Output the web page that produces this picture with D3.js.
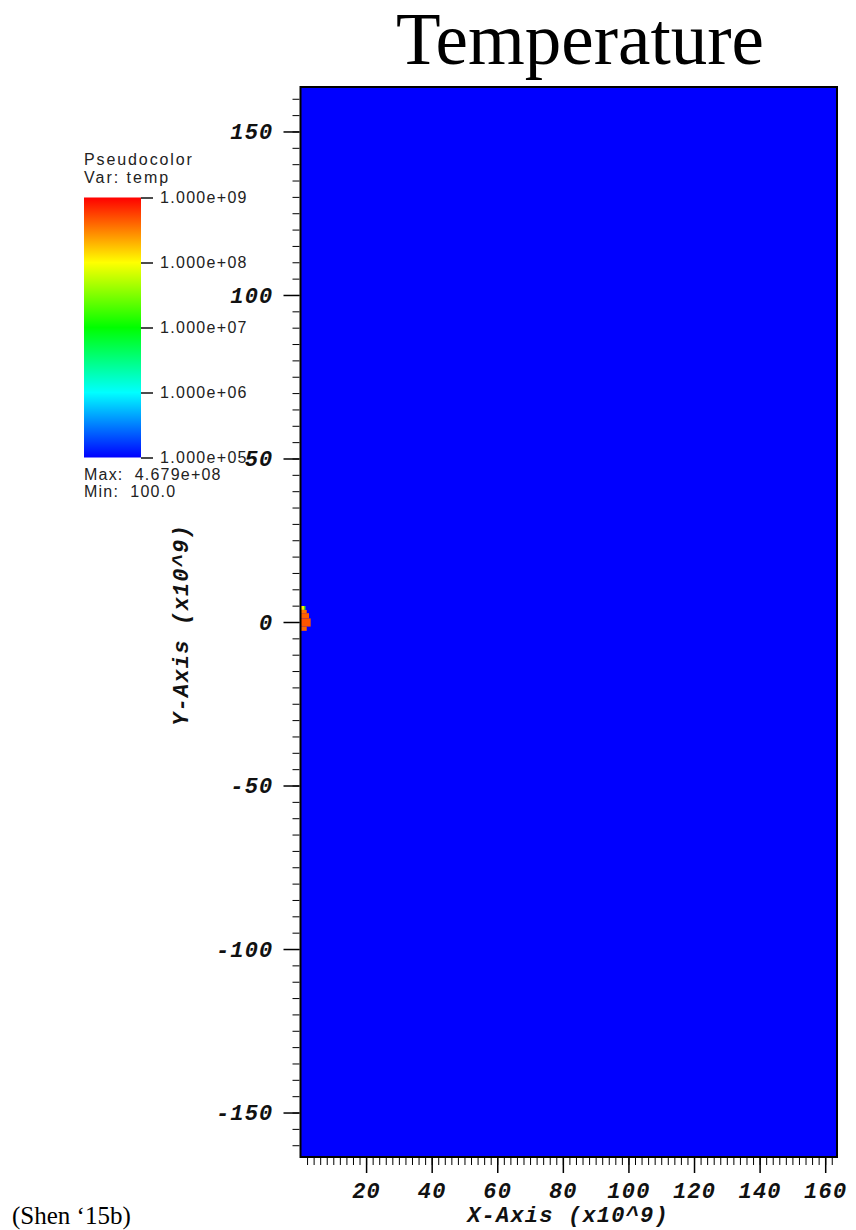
<!DOCTYPE html>
<html>
<head>
<meta charset="utf-8">
<script src="https://cdn.jsdelivr.net/npm/d3@7"></script>
<style>
  body { margin: 0; background: #fff; }
  svg { display: block; }
  .tick text { font-family: "Liberation Mono", monospace; font-weight: bold; font-style: italic; }
  .legend text { font-family: "Liberation Sans", Arial, sans-serif; fill: #222; white-space: pre; }
</style>
</head>
<body>
<div id="chart"></div>
<script>
// axis extents (x10^9)
const xExtent = [0, 163.6];
const yExtent = [-163.6, 163.6];
const xTickValues = [20, 40, 60, 80, 100, 120, 140, 160];
const yTickValues = [-150, -100, -50, 0, 50, 100, 150];

// colour table (VisIt "hot") on log10(temp)
const colorLogStops = [5, 6, 7, 8, 9];
const colorStops = ["#0000ff", "#00ffff", "#00ff00", "#ffff00", "#ff0000"];
const legendTicks = [1e5, 1e6, 1e7, 1e8, 1e9];
const tempMax = 4.679e8;
const tempMin = 100.0;
const backgroundTemp = 100; // whole domain is at the floor

// hot cells near origin: [x0, x1, y0, y1] in x10^9, temp in K
const cellX0 = [0, 1.1, 0, 0, 0, 0];
const cellX1 = [1.1, 1.5, 1.9, 2.6, 3.1, 1.9];
const cellY0 = [3.7, 3.7, 2.7, 1.1, -1.4, -2.7];
const cellY1 = [4.9, 4.9, 3.7, 2.7, 1.1, -1.4];
const cellTemp = [1.2e8, 2e7, 3.5e8, 4.2e8, 4.68e8, 4.0e8];

const W = 856, H = 1230;
const svg = d3.select("#chart").append("svg").attr("width", W).attr("height", H);

const x = d3.scaleLinear().domain(xExtent).range([300.5, 837]);
const y = d3.scaleLinear().domain(yExtent).range([1157, 87]);
const colorLog = d3.scaleLinear().domain(colorLogStops).range(colorStops).clamp(true);
const color = (t) => colorLog(Math.log10(t));

// title
svg.append("text")
  .attr("x", 580).attr("y", 64)
  .attr("text-anchor", "middle")
  .style("font-family", "'Liberation Serif', 'Times New Roman', serif")
  .style("font-size", "73px")
  .text("Temperature");

// field
svg.append("rect")
  .attr("x", x(xExtent[0])).attr("y", y(yExtent[1]))
  .attr("width", x(xExtent[1]) - x(xExtent[0]))
  .attr("height", y(yExtent[0]) - y(yExtent[1]))
  .attr("fill", color(backgroundTemp));

const cells = cellTemp.map((t, i) => ({ x0: cellX0[i], x1: cellX1[i], y0: cellY0[i], y1: cellY1[i], t }));
svg.append("g").selectAll("rect").data(cells).join("rect")
  .attr("x", d => x(d.x0))
  .attr("y", d => y(d.y1))
  .attr("width", d => x(d.x1) - x(d.x0))
  .attr("height", d => y(d.y0) - y(d.y1))
  .attr("fill", d => color(d.t));

// frame
svg.append("rect")
  .attr("x", x(xExtent[0])).attr("y", y(yExtent[1]))
  .attr("width", x(xExtent[1]) - x(xExtent[0]))
  .attr("height", y(yExtent[0]) - y(yExtent[1]))
  .attr("fill", "none").attr("stroke", "#000").attr("stroke-width", 2);

// x axis: minor every 2, major every 20
const xMinor = d3.range(2, 163, 2);
svg.append("g").attr("transform", `translate(0,${y(yExtent[0]) + 1})`)
  .call(d3.axisBottom(x).tickValues(xMinor).tickSize(7).tickFormat(""))
  .call(g => g.select(".domain").remove());
svg.append("g").attr("transform", `translate(0,${y(yExtent[0]) + 1})`)
  .call(d3.axisBottom(x).tickValues(xTickValues).tickSize(15).tickPadding(9).tickFormat(d => String(d)))
  .call(g => g.select(".domain").remove())
  .call(g => g.selectAll(".tick line").attr("stroke-width", 1.5))
  .call(g => g.selectAll(".tick text").style("font-size", "22px").style("letter-spacing", "1.2px").attr("fill", "#111"));

// y axis: minor every 5, major every 50
const yMinor = d3.range(-160, 161, 5);
svg.append("g").attr("transform", `translate(${x(0) - 1},0)`)
  .call(d3.axisLeft(y).tickValues(yMinor).tickSize(7).tickFormat(""))
  .call(g => g.select(".domain").remove());
svg.append("g").attr("transform", `translate(${x(0) - 1},0)`)
  .call(d3.axisLeft(y).tickValues(yTickValues).tickSize(16).tickPadding(10).tickFormat(d => String(d)))
  .call(g => g.select(".domain").remove())
  .call(g => g.selectAll(".tick line").attr("stroke-width", 1.5))
  .call(g => g.selectAll(".tick text").style("font-size", "22px").style("letter-spacing", "1.2px").attr("fill", "#111"));

// axis titles
const axisTitle = (sel) => sel
  .style("font-family", "'Liberation Mono', monospace")
  .style("font-weight", "bold").style("font-style", "italic")
  .style("font-size", "22px").style("letter-spacing", "1.2px").attr("fill", "#111")
  .attr("text-anchor", "middle");
svg.append("text").attr("x", 568).attr("y", 1222).call(axisTitle).text("X-Axis (x10^9)");
svg.append("text").attr("transform", "translate(188,625) rotate(-90)").call(axisTitle).text("Y-Axis (x10^9)");

// legend
const legend = svg.append("g").attr("class", "legend");
const barX = 84, barW = 57;
const ly = d3.scaleLog().domain([1e5, 1e9]).range([457.5, 197.5]);

const grad = svg.append("defs").append("linearGradient")
  .attr("id", "hot").attr("x1", 0).attr("y1", 1).attr("x2", 0).attr("y2", 0);
grad.selectAll("stop").data(colorLogStops).join("stop")
  .attr("offset", (d, i) => i / (colorLogStops.length - 1))
  .attr("stop-color", d => colorLog(d));

legend.append("text").attr("x", barX).attr("y", 165)
  .style("font-size", "16px").style("letter-spacing", "1.9px").text("Pseudocolor");
legend.append("text").attr("x", barX).attr("y", 183)
  .style("font-size", "16px").style("letter-spacing", "2px").text("Var: temp");

legend.append("rect")
  .attr("x", barX).attr("y", ly(1e9))
  .attr("width", barW).attr("height", ly(1e5) - ly(1e9))
  .attr("fill", "url(#hot)");

const expFmt = (v) => {
  const [m, e] = v.toExponential(3).split("e");
  const sign = e[0];
  const digits = e.slice(1).padStart(2, "0");
  return `${m}e${sign}${digits}`;
};

legend.append("g").attr("transform", `translate(${barX + barW},0)`)
  .call(d3.axisRight(ly).tickValues(legendTicks).tickSize(12).tickPadding(7).tickFormat(expFmt))
  .call(g => g.select(".domain").remove())
  .call(g => g.selectAll(".tick line").attr("stroke", "#111").attr("stroke-width", 1.5))
  .call(g => g.selectAll(".tick text")
    .style("font-family", "'Liberation Sans', Arial, sans-serif")
    .style("font-weight", "normal").style("font-style", "normal")
    .style("font-size", "16px").style("letter-spacing", "1.3px").attr("fill", "#222"));

legend.append("text").attr("x", barX).attr("y", 480)
  .style("font-size", "16px").style("letter-spacing", "1.2px")
  .text(`Max:  ${expFmt(tempMax)}`);
legend.append("text").attr("x", barX).attr("y", 497)
  .style("font-size", "16px").style("letter-spacing", "1.2px")
  .text(`Min:  ${tempMin.toFixed(1)}`);

// source note
svg.append("text").attr("x", 12).attr("y", 1224)
  .style("font-family", "'Liberation Serif', 'Times New Roman', serif")
  .style("font-size", "25px")
  .text("(Shen \u201815b)");
</script>
</body>
</html>
